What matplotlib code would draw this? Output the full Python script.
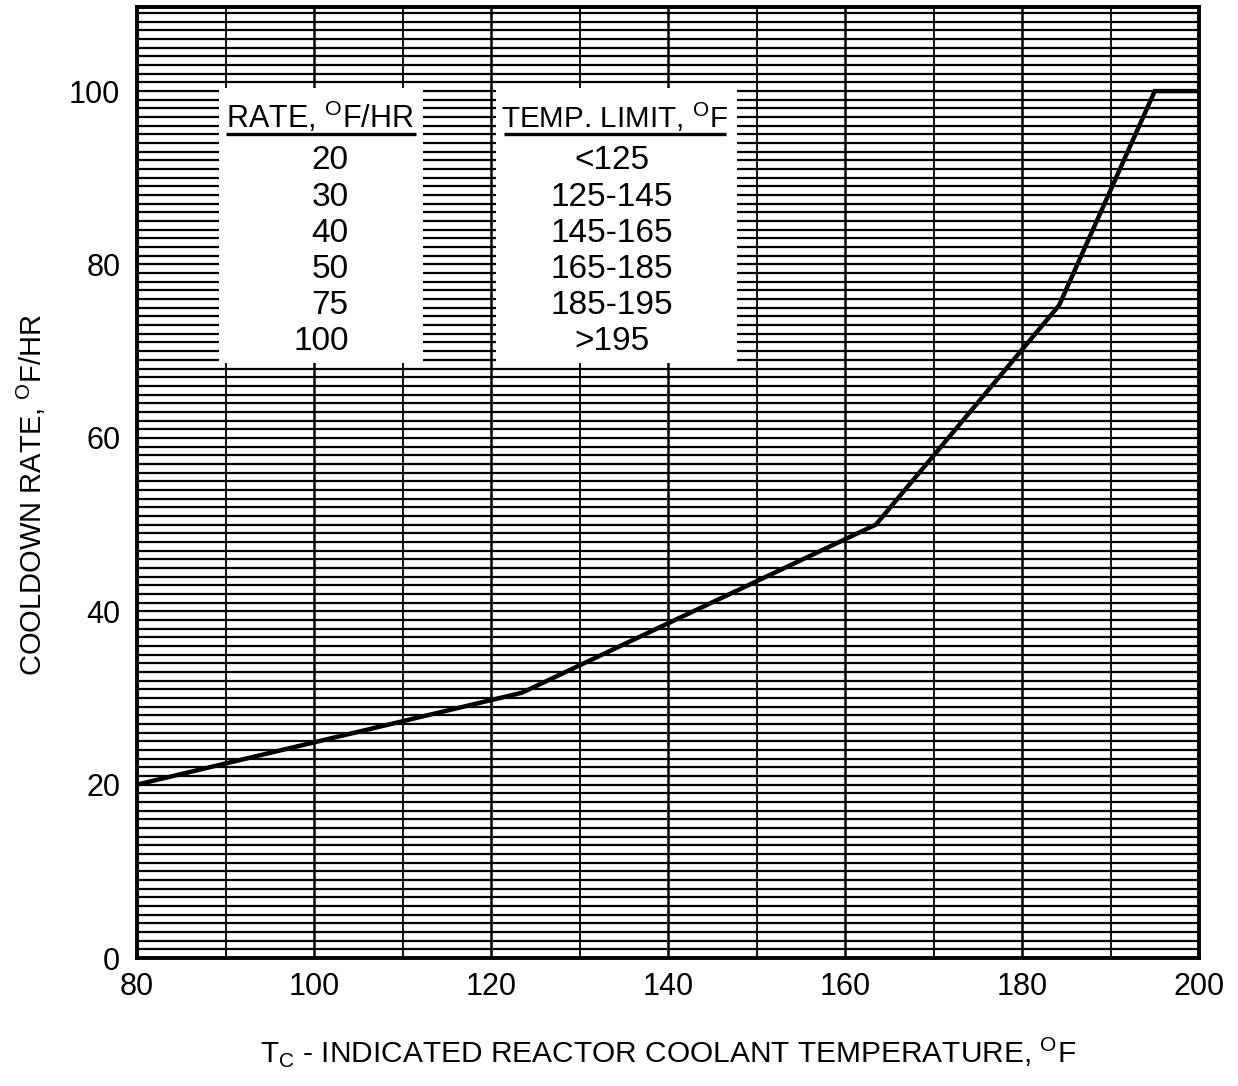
import numpy as np
import matplotlib
matplotlib.use("Agg")
import matplotlib.pyplot as plt
from matplotlib.patches import Rectangle

plt.rcParams['font.family'] = ['Liberation Sans', 'DejaVu Sans']
plt.rcParams['mathtext.fontset'] = 'custom'
plt.rcParams['mathtext.rm'] = 'Liberation Sans'
plt.rcParams['mathtext.it'] = 'Liberation Sans'
plt.rcParams['mathtext.bf'] = 'Liberation Sans'

# ---- data ----
temp = [80, 123.5, 163.5, 184.2, 195.0, 200]
rate = [20, 30.6, 50.0, 75.3, 100.0, 100.0]

x_ticks = [80, 100, 120, 140, 160, 180, 200]
y_ticks = [0, 20, 40, 60, 80, 100]

table_rates = ["20", "30", "40", "50", "75", "100"]
table_limits = ["<125", "125-145", "145-165", "165-185", "185-195", ">195"]
hdr_rate = r"RATE, $^{\mathrm{O}}$F/HR"
hdr_limit = r"TEMP. LIMIT, $^{\mathrm{O}}$F"

xlabel = r"T$_{\mathrm{C}}$ - INDICATED REACTOR COOLANT TEMPERATURE, $^{\mathrm{O}}$F"
ylabel = r"COOLDOWN RATE, $^{\mathrm{O}}$F/HR"

# ---- figure ----
W, H = 1238, 1086
fig = plt.figure(figsize=(W / 100, H / 100), dpi=100)
ax = fig.add_axes([137 / W, (H - 958) / H, (1199 - 137) / W, (958 - 7) / H])

ax.set_xlim(80, 200)
ax.set_ylim(0, 109.7)

ax.set_xticks(x_ticks)
ax.set_xticks(np.arange(80, 201, 10), minor=True)
ax.set_yticks(y_ticks)
ax.set_yticks(np.arange(0, 110, 1), minor=True)
ax.tick_params(which='both', length=0)
ax.tick_params(axis='x', which='major', labelsize=22, pad=10)
ax.tick_params(axis='y', which='major', labelsize=22, pad=12)

ax.set_axisbelow(True)
ax.grid(which='major', axis='x', color='black', lw=1.8)
ax.grid(which='minor', axis='x', color='black', lw=1.3)
ax.grid(which='both', axis='y', color='black', lw=1.6)

for s in ax.spines.values():
    s.set_linewidth(2.8)

# table boxes (white)
ax.add_patch(Rectangle((89.3, 68.6), 23.0, 31.7, facecolor='white',
                       edgecolor='none', zorder=2))
ax.add_patch(Rectangle((120.6, 68.6), 27.2, 31.7, facecolor='white',
                       edgecolor='none', zorder=2))

ax.text(100.7, 97.0, hdr_rate, ha='center', va='center', fontsize=22, zorder=4)
ax.text(133.9, 97.0, hdr_limit, ha='center', va='center', fontsize=21.3, zorder=4)
ax.plot([90.0, 111.5], [95.0, 95.0], color='black', lw=2.4, zorder=4,
        solid_capstyle='butt')
ax.plot([121.5, 146.6], [95.0, 95.0], color='black', lw=2.4, zorder=4,
        solid_capstyle='butt')

row_y = 91.95
for i, (r, l) in enumerate(zip(table_rates, table_limits)):
    y = row_y - i * 4.17
    ax.text(103.9, y, r, ha='right', va='center', fontsize=24, zorder=4)
    ax.text(133.7, y, l, ha='center', va='center', fontsize=24, zorder=4)

# curve
ax.plot(temp, rate, color='black', lw=3.2, zorder=5, solid_joinstyle='miter')

ax.set_xlabel(xlabel, fontsize=21.5, labelpad=24)
ax.set_ylabel(ylabel, fontsize=21)
ax.yaxis.set_label_coords(-0.084, 0.487)

fig.savefig("out.png", dpi=100, facecolor='white')
